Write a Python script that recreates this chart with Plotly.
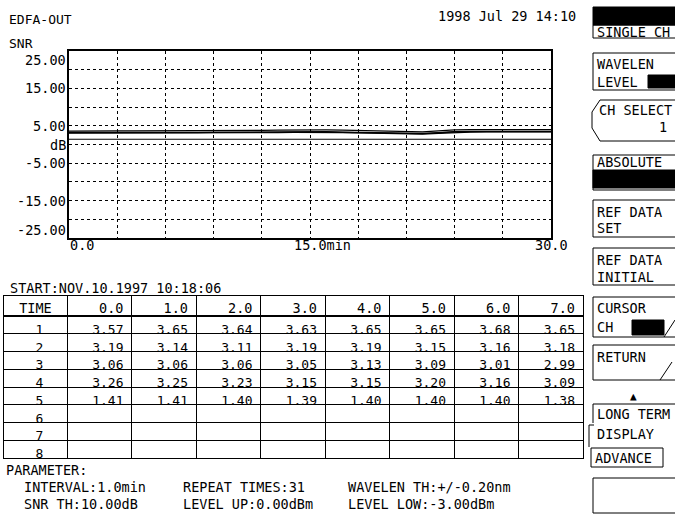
import plotly.graph_objects as go

# SNR trend, 5 channels, 1.0 min interval, 31 repeats
times = list(range(31))
ch1 = [3.57, 3.65, 3.64, 3.63, 3.65, 3.65, 3.68, 3.65, 3.66, 3.70, 3.74, 3.78, 3.80, 3.86, 3.92, 3.95,
       3.90, 3.82, 3.74, 3.66, 3.52, 3.42, 3.40, 3.62, 3.90, 3.96, 3.98, 3.97, 3.99, 3.98, 4.00]
ch2 = [3.19, 3.14, 3.11, 3.19, 3.19, 3.15, 3.16, 3.18, 3.20, 3.22, 3.26, 3.30, 3.32, 3.38, 3.44, 3.46,
       3.42, 3.34, 3.28, 3.20, 3.06, 2.98, 2.96, 3.18, 3.44, 3.50, 3.52, 3.51, 3.53, 3.52, 3.54]
ch3 = [3.06, 3.06, 3.06, 3.05, 3.13, 3.09, 3.01, 2.99, 3.02, 3.04, 3.08, 3.12, 3.14, 3.18, 3.24, 3.26,
       3.22, 3.16, 3.10, 3.02, 2.90, 2.82, 2.80, 3.00, 3.26, 3.32, 3.34, 3.33, 3.35, 3.34, 3.36]
ch4 = [3.26, 3.25, 3.23, 3.15, 3.15, 3.20, 3.16, 3.09, 3.12, 3.14, 3.18, 3.22, 3.24, 3.30, 3.36, 3.38,
       3.34, 3.26, 3.20, 3.12, 2.98, 2.90, 2.88, 3.10, 3.36, 3.42, 3.44, 3.43, 3.45, 3.44, 3.46]
ch5 = [1.41, 1.41, 1.40, 1.39, 1.40, 1.40, 1.40, 1.38, 1.39, 1.40, 1.40, 1.41, 1.40, 1.39, 1.40, 1.41,
       1.40, 1.40, 1.39, 1.40, 1.40, 1.41, 1.40, 1.40, 1.39, 1.40, 1.40, 1.41, 1.40, 1.40, 1.40]
channels = [ch1, ch2, ch3, ch4, ch5]

ylab_vals = [22.5, 15, 5, 0, -5, -15, -22.8]
ylab_text = ['25.00', '15.00', '5.00', 'dB', '-5.00', '-15.00', '-25.00']

table_times = ['0.0', '1.0', '2.0', '3.0', '4.0', '5.0', '6.0', '7.0']
row_labels = ['1', '2', '3', '4', '5', '6', '7', '8']

params_row1 = ['INTERVAL:1.0min', 'REPEAT TIMES:31', 'WAVELEN TH:+/-0.20nm']
params_row2 = ['SNR TH:10.00dB', 'LEVEL UP:0.00dBm', 'LEVEL LOW:-3.00dBm']

W, H = 675, 515
FONT = 'DejaVu Sans Mono'
FS = 13.5


def X(px):
    return px / W


def Y(py):
    return 1 - py / H


fig = go.Figure()

for ch in channels:
    fig.add_trace(go.Scatter(x=times, y=ch, mode='lines',
                             line=dict(color='black', width=1.2), showlegend=False,
                             hoverinfo='skip'))

# table, columns are times, rows are channels
cols = [[r + '\u00a0\u00a0' for r in row_labels]]
for j in range(len(table_times)):
    col = [f'{ch[j]:.2f}' for ch in channels] + [''] * (len(row_labels) - len(channels))
    cols.append(col)

fig.add_trace(go.Table(
    domain=dict(x=[X(3), X(583)], y=[Y(460), Y(295)]),
    columnwidth=[64] + [64.5] * 8,
    header=dict(values=['\u00a0TIME'] + table_times, height=21,
                align=['left'] + ['right'] * 8,
                line=dict(color='black', width=1), fill=dict(color='white'),
                font=dict(family=FONT, size=FS, color='black')),
    cells=dict(values=cols, height=17.75,
               align='right',
               line=dict(color='black', width=1), fill=dict(color='white'),
               font=dict(family=FONT, size=13, color='black')),
))

ann = []


def txt(x, y, s, anchor='left', size=FS, xref='paper', yref='paper'):
    ann.append(dict(x=x, y=y, xref=xref, yref=yref, text=s, showarrow=False,
                    xanchor=anchor, yanchor='middle', borderpad=0,
                    font=dict(family=FONT, size=size, color='black')))


txt(X(8), Y(19), 'EDFA-OUT', size=13)
txt(X(8), Y(43), 'SNR', size=13)
txt(X(577), Y(16), '1998 Jul 29 14:10', anchor='right')

for v, s in zip(ylab_vals, ylab_text):
    ann.append(dict(x=X(67), y=v, xref='paper', yref='y', text=s, showarrow=False,
                    xanchor='right', yanchor='middle', borderpad=0,
                    font=dict(family=FONT, size=FS, color='black')))

txt(0, Y(245), '0.0', anchor='left', xref='x')
txt(X(293), Y(245), '15.0min')
txt(30, Y(245), '30.0', anchor='center', xref='x')

txt(X(9), Y(288), 'START:NOV.10.1997 10:18:06')
txt(X(5), Y(470), 'PARAMETER:')
for s, x0 in zip(params_row1, [23, 182, 347]):
    txt(X(x0), Y(487), s)
for s, x0 in zip(params_row2, [23, 182, 347]):
    txt(X(x0), Y(504), s)

# soft keys on the right
shapes = []


def box(x0, y0, x1, y1, fill=None, w=1):
    shapes.append(dict(type='rect', xref='paper', yref='paper',
                       x0=X(x0), x1=X(x1), y0=Y(y1), y1=Y(y0),
                       line=dict(color='black', width=w),
                       fillcolor=fill if fill else 'rgba(0,0,0,0)'))


def seg(x0, y0, x1, y1, w=1):
    shapes.append(dict(type='line', xref='paper', yref='paper',
                       x0=X(x0), x1=X(x1), y0=Y(y0), y1=Y(y1),
                       line=dict(color='black', width=w)))


def key(x, y, s):
    txt(X(x), Y(y), s)


box(593, 7, 678, 25, fill='black')
box(593, 25, 678, 38)
key(596, 32, 'SINGLE CH')

box(593, 53, 678, 90)
box(648, 75, 678, 88, fill='black')
key(596, 64, 'WAVELEN')
key(596, 82, 'LEVEL')

shapes.append(dict(type='path', xref='paper', yref='paper',
                   path=f'M {X(678)},{Y(100)} L {X(600)},{Y(100)} L {X(592)},{Y(112)} '
                        f'L {X(592)},{Y(128)} L {X(600)},{Y(141)} L {X(678)},{Y(141)}',
                   line=dict(color='black', width=1)))
key(598, 110, 'CH SELECT')
txt(X(663), Y(127), '1', anchor='center')

box(593, 155, 678, 190)
box(593, 170, 678, 188, fill='black')
key(596, 162, 'ABSOLUTE')

box(593, 200, 678, 237)
key(596, 212, 'REF DATA')
key(596, 228, 'SET')

box(593, 248, 678, 285)
key(596, 260, 'REF DATA')
key(596, 277, 'INITIAL')

box(593, 297, 678, 337)
box(632, 320, 664, 335, fill='black')
seg(664, 337, 675, 320)
key(596, 308, 'CURSOR')
key(596, 327, 'CH')

box(593, 345, 678, 380)
seg(660, 380, 672, 362)
key(596, 357, 'RETURN')

txt(X(633), Y(396), '\u25b2', anchor='center', size=11)

seg(593, 404, 678, 404)
seg(593, 404, 593, 423)
key(596, 414, 'LONG TERM')
seg(589, 425, 589, 447)
seg(589, 425, 594, 425)
key(596, 434, 'DISPLAY')
box(591, 448, 663, 467)
key(594, 458, 'ADVANCE')

box(593, 478, 678, 513)

# thick line under the table header
seg(3, 316, 583, 316, w=2)

fig.update_layout(
    width=W, height=H,
    margin=dict(l=0, r=0, t=0, b=0),
    paper_bgcolor='white', plot_bgcolor='white',
    showlegend=False,
    xaxis=dict(domain=[X(69), X(551)], range=[0, 30], dtick=3, tick0=0,
               showgrid=True, gridcolor='black', griddash='dot', gridwidth=1,
               showline=True, mirror=True, linecolor='black', linewidth=1.5,
               zeroline=False, showticklabels=False, ticks='', fixedrange=True),
    yaxis=dict(domain=[Y(238), Y(51)], range=[-25, 25], dtick=5, tick0=0,
               showgrid=True, gridcolor='black', griddash='dot', gridwidth=1,
               showline=True, mirror=True, linecolor='black', linewidth=1.5,
               zeroline=False, showticklabels=False, ticks='', fixedrange=True),
    annotations=ann,
    shapes=shapes,
)

# the page's default body margin would push the figure 8px right and down
fig.write_html("out.html", config={'displayModeBar': False},
               post_script="document.body.style.margin='0px';")
